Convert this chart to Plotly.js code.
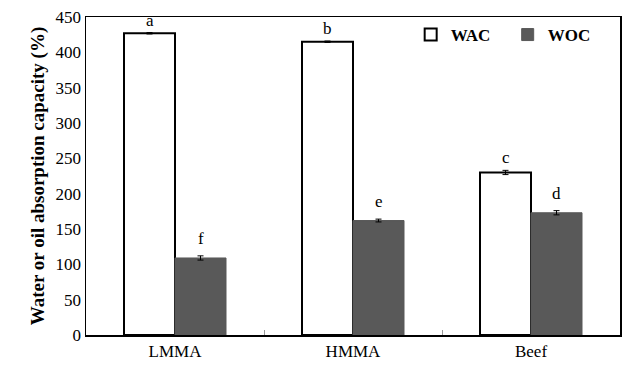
<!DOCTYPE html>
<html>
<head>
<meta charset="utf-8">
<script src="https://cdn.plot.ly/plotly-3.0.1.min.js"></script>
<style>html,body{margin:0;padding:0;background:#fff;}#chart{width:624px;height:365px;}</style>
</head>
<body>
<div id="chart"></div>
<script>
const categories = ["LMMA", "HMMA", "Beef"];
const wacValues = [427, 415, 230];
const wacErrors = [1, 1, 3];
const wacLetters = ["a", "b", "c"];
const wocValues = [109, 162, 173];
const wocErrors = [3, 2, 3];
const wocLetters = ["f", "e", "d"];
const yTicks = [0, 50, 100, 150, 200, 250, 300, 350, 400, 450];

const serif = "Liberation Serif";

const traces = [
  {
    type: "bar", name: "WAC", x: categories, y: wacValues,
    marker: {color: "#ffffff", line: {color: "#000000", width: 2}},
    error_y: {type: "data", array: wacErrors, visible: true, color: "#000", thickness: 1, width: 3}
  },
  {
    type: "bar", name: "WOC", x: categories, y: wocValues,
    marker: {color: "#595959", line: {color: "#595959", width: 1}},
    error_y: {type: "data", array: wocErrors, visible: true, color: "#000", thickness: 1, width: 3}
  }
];

const annotations = [];
categories.forEach((c, i) => {
  annotations.push({x: c, y: wacValues[i] + wacErrors[i], text: wacLetters[i], showarrow: false,
    xshift: -25.5, yanchor: "bottom", yshift: 1, font: {family: serif, size: 17, color: "#000"}});
  annotations.push({x: c, y: wocValues[i] + wocErrors[i], text: wocLetters[i], showarrow: false,
    xshift: 25.5, yanchor: "bottom", yshift: 6, font: {family: serif, size: 17, color: "#000"}});
});

const layout = {
  width: 624, height: 365,
  margin: {l: 86, r: 4, t: 17, b: 30},
  paper_bgcolor: "#fff", plot_bgcolor: "#fff",
  font: {family: serif, color: "#000"},
  barmode: "group", bargap: 0.427, bargroupgap: 0,
  showlegend: true,
  legend: {orientation: "h", x: 0.608, y: 1.0, xanchor: "left", yanchor: "top",
    font: {family: serif, size: 17, color: "#000", weight: "bold"}, bgcolor: "rgba(0,0,0,0)",
    entrywidth: 52, entrywidthmode: "pixels", itemwidth: 30, tracegroupgap: 0},
  xaxis: {
    type: "category", showline: true, linecolor: "#000", linewidth: 1.5, mirror: true,
    ticks: "inside", tickson: "boundaries", ticklen: 5, tickcolor: "#999", tickwidth: 1,
    tickfont: {family: serif, size: 17, color: "#000"}, showgrid: false, zeroline: false
  },
  yaxis: {
    range: [0, 450], tickvals: yTicks, ticktext: yTicks.map(String),
    showline: true, linecolor: "#000", linewidth: 1.5, mirror: true,
    ticks: "", showgrid: false, zeroline: false,
    tickfont: {family: serif, size: 17, color: "#000"},
    title: {text: "Water or oil absorption capacity (%)", standoff: 6,
      font: {family: serif, size: 19, color: "#000", weight: "bold"}}
  },
  annotations: annotations
};

Plotly.newPlot("chart", traces, layout, {displayModeBar: false, staticPlot: true});
</script>
</body>
</html>
